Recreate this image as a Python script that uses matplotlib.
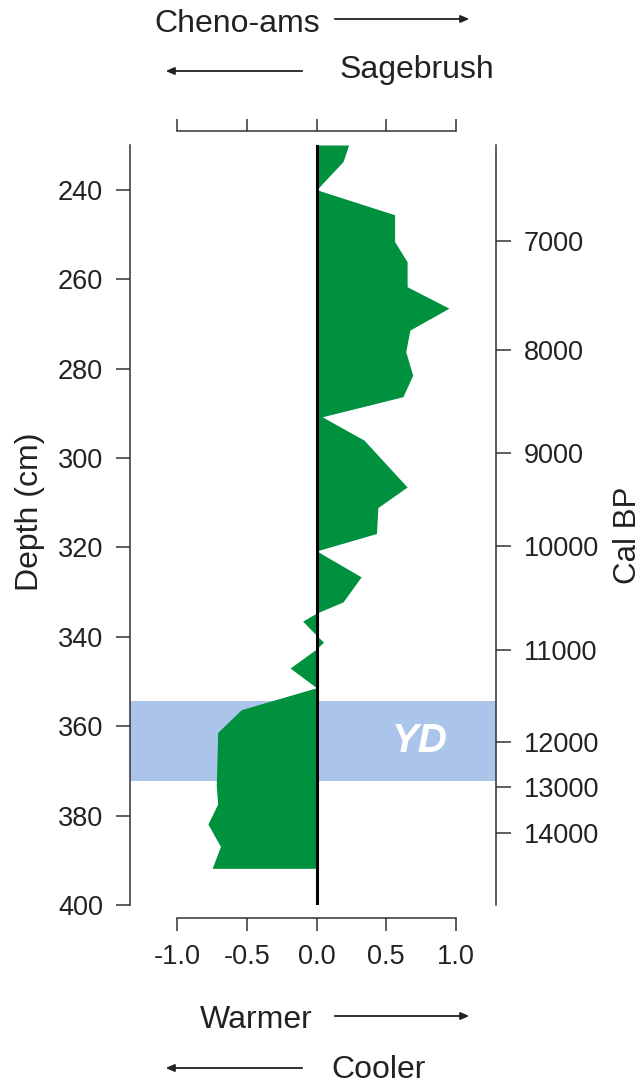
import numpy as np
import matplotlib
matplotlib.use("Agg")
import matplotlib.pyplot as plt
from matplotlib.ticker import FixedLocator, FixedFormatter

plt.rcParams["font.family"] = ["Liberation Sans", "DejaVu Sans"]

# pollen ratio profile down the core (value < 0 = sagebrush / cooler)
depth_cm = [230.0, 233.7, 240.0, 245.6, 251.6, 256.1, 261.7, 266.5, 271.4, 276.2,
            281.5, 286.3, 290.8, 296.0, 306.5, 311.1, 316.9, 320.8, 326.6, 332.2,
            334.7, 336.5, 339.7, 341.2, 342.7, 347.0, 351.4, 354.3, 356.3, 361.4,
            373.3, 377.4, 381.9, 386.9, 391.8]
ratio = [0.23, 0.19, 0.0, 0.56, 0.56, 0.65, 0.65, 0.95, 0.67, 0.64,
         0.69, 0.62, 0.04, 0.34, 0.65, 0.44, 0.43, 0.0, 0.32, 0.19,
         0.0, -0.10, 0.0, 0.05, 0.0, -0.19, 0.0, -0.32, -0.54, -0.71,
         -0.72, -0.71, -0.78, -0.69, -0.75]

# age model: calendar ages and the depths they sit at
cal_bp_ages = [7000, 8000, 9000, 10000, 11000, 12000, 13000, 14000]
cal_bp_depths = [251.4, 275.8, 298.8, 319.6, 342.9, 363.6, 373.5, 383.9]

depth_ticks = [240, 260, 280, 300, 320, 340, 360, 380, 400]
ratio_ticks = [-1.0, -0.5, 0.0, 0.5, 1.0]
ratio_labels = ["-1.0", "-0.5", "0.0", "0.5", "1.0"]

yd_top, yd_bottom = 354.4, 372.2   # Younger Dryas interval (cm)

GREEN = "#00913f"
BAND = "#abc4ea"
INK = "#222222"

W, H = 644, 1084
fig = plt.figure(figsize=(W / 100, H / 100), dpi=100)
ax = fig.add_axes([129.5 / W, 1 - 905 / H, (496 - 129.5) / W, (905 - 145) / H])

ax.axhspan(yd_top, yd_bottom, color=BAND, lw=0, zorder=0)
ax.fill_betweenx(depth_cm, 0, ratio, color=GREEN, lw=0, zorder=1)
ax.axvline(0, color="black", lw=2.2, zorder=2)
ax.text(0.74, (yd_top + yd_bottom) / 2, "YD", color="white", fontsize=29,
        fontweight="bold", fontstyle="italic", ha="center", va="center", zorder=3)

ax.set_xlim(-1.343, 1.288)
ax.set_ylim(400, 230)

# left depth axis
ax.yaxis.set_major_locator(FixedLocator(depth_ticks))
ax.tick_params(axis="y", direction="out", length=10, width=1.1, color="#333333",
               labelsize=19.5, labelcolor=INK, pad=9)
ax.set_ylabel("Depth (cm)", fontsize=23, color=INK)
ax.yaxis.set_label_coords(-0.23, 0.518)

# ratio scale drawn both above and below, detached from the plot
ax.xaxis.set_major_locator(FixedLocator(ratio_ticks))
ax.xaxis.set_major_formatter(FixedFormatter(ratio_labels))
ax.tick_params(axis="x", top=True, bottom=True, labeltop=False, labelbottom=True,
               direction="out", length=9, width=1.1, color="#333333",
               labelsize=19.5, labelcolor=INK, pad=10)
for side, off in (("top", 10), ("bottom", 9)):
    ax.spines[side].set_position(("outward", off))
    ax.spines[side].set_bounds(-1, 1)
ax.spines["right"].set_visible(False)
for s in ("left", "top", "bottom"):
    ax.spines[s].set_linewidth(1.1)
    ax.spines[s].set_color("#333333")

# right calendar age axis
ax2 = ax.twinx()
ax2.set_ylim(ax.get_ylim())
ax2.yaxis.set_major_locator(FixedLocator(cal_bp_depths))
ax2.yaxis.set_major_formatter(FixedFormatter([str(a) for a in cal_bp_ages]))
ax2.tick_params(axis="y", direction="out", length=11, width=1.1, color="#333333",
                labelsize=19.5, labelcolor=INK, pad=9)
for s in ("left", "top", "bottom"):
    ax2.spines[s].set_visible(False)
ax2.spines["right"].set_linewidth(1.1)
ax2.spines["right"].set_color("#333333")
ax2.set_ylabel("Cal BP", fontsize=22.5, color=INK, rotation=90)
ax2.yaxis.set_label_coords(1.318, 0.487)


def px(x, y):
    return x / W, 1 - y / H


def arrow(x0, x1, y):
    fig.add_artist(matplotlib.patches.FancyArrowPatch(
        px(x0, y), px(x1, y), transform=fig.transFigure,
        arrowstyle="-|>,head_length=5,head_width=2.2", color=INK, lw=1.3))


fig.text(*px(154, 32), "Cheno-ams", fontsize=23, color=INK, va="baseline")
arrow(332, 472, 19)
fig.text(*px(340, 78), "Sagebrush", fontsize=23, color=INK, va="baseline")
arrow(305, 163, 71)
fig.text(*px(200, 1028), "Warmer", fontsize=23, color=INK, va="baseline")
arrow(332, 472, 1016)
fig.text(*px(331, 1078), "Cooler", fontsize=23, color=INK, va="baseline")
arrow(305, 163, 1068)

fig.savefig("out.png", dpi=100)
